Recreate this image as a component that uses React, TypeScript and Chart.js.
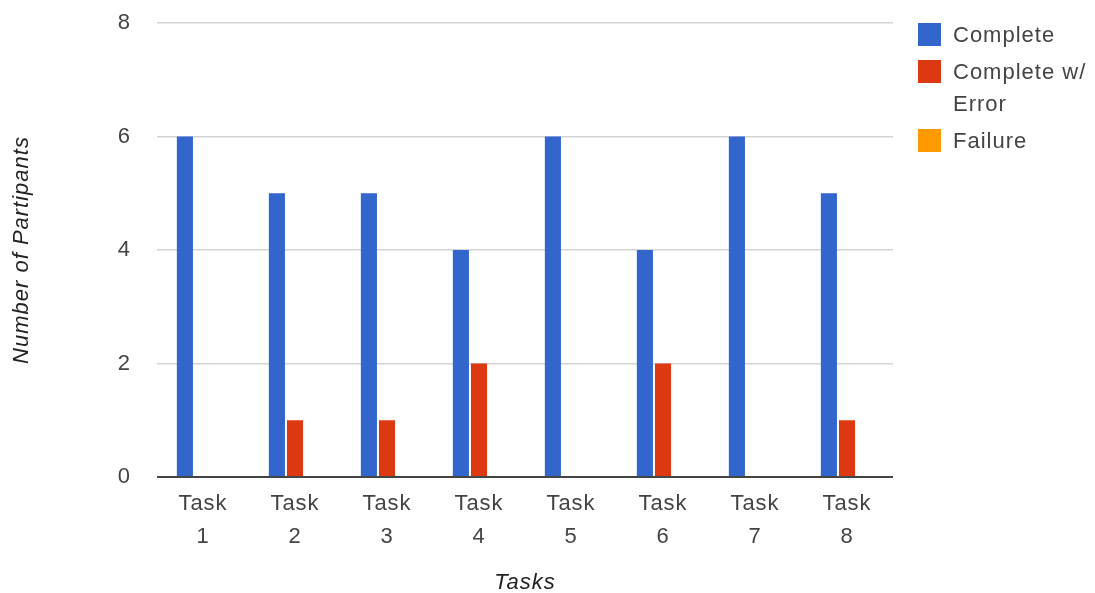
import React, { useEffect, useRef } from 'react';
import { Chart, registerables } from 'chart.js';

Chart.register(...registerables);

const categories = ['Task 1', 'Task 2', 'Task 3', 'Task 4', 'Task 5', 'Task 6', 'Task 7', 'Task 8'];
const seriesNames = ['Complete', 'Complete w/ Error', 'Failure'];
const complete = [6, 5, 5, 4, 6, 4, 6, 5];
const completeWithError = [0, 1, 1, 2, 0, 2, 0, 1];
const failure = [0, 0, 0, 0, 0, 0, 0, 0];
const seriesColors = ['#3366cc', '#dc3912', '#ff9900'];
const yMax = 8;
const yStep = 2;
const xTitle = 'Tasks';
const yTitle = 'Number of Partipants';

const FONT = '"Liberation Sans", Arial, sans-serif';

const spacingPlugin = {
  id: 'letterSpacing',
  beforeDraw(chart: any) {
    (chart.ctx as any).letterSpacing = '1px';
  },
};

const legendPlugin = {
  id: 'sideLegend',
  afterDraw(chart: any) {
    const ctx = chart.ctx as CanvasRenderingContext2D;
    ctx.save();
    (ctx as any).letterSpacing = '1px';
    ctx.font = `22px ${FONT}`;
    ctx.textBaseline = 'middle';
    ctx.textAlign = 'left';
    const boxX = 918;
    const textX = 953;
    const box = 23;
    const maxW = 138;
    const lineH = 32;
    let y = 23;
    chart.data.datasets.forEach((ds: any) => {
      const words = String(ds.label).split(' ');
      const lines: string[] = [];
      let cur = '';
      words.forEach((w) => {
        const t = cur ? cur + ' ' + w : w;
        if (ctx.measureText(t).width > maxW && cur) {
          lines.push(cur);
          cur = w;
        } else cur = t;
      });
      if (cur) lines.push(cur);
      ctx.fillStyle = ds.backgroundColor;
      ctx.fillRect(boxX, y, box, box);
      ctx.fillStyle = '#444';
      lines.forEach((l, k) => {
        ctx.fillText(l, textX, y + box / 2 + 1 + k * lineH);
      });
      y += 37 + lineH * (lines.length - 1);
    });
    ctx.restore();
  },
};

export default function App() {
  const ref = useRef<HTMLCanvasElement>(null);
  useEffect(() => {
    if (!ref.current) return;
    const chart = new Chart(ref.current, {
      type: 'bar',
      data: {
        labels: categories,
        datasets: [complete, completeWithError, failure].map((d, i) => ({
          label: seriesNames[i],
          data: d,
          backgroundColor: seriesColors[i],
          borderWidth: 0,
          categoryPercentage: 0.59,
          barPercentage: 0.89,
        })),
      },
      options: {
        animation: false,
        responsive: false,
        maintainAspectRatio: false,
        layout: { padding: { top: 23, right: 202, left: 0, bottom: 0 } },
        plugins: { legend: { display: false }, tooltip: { enabled: false } },
        scales: {
          x: {
            grid: { display: false, drawTicks: false },
            border: { display: false },
            ticks: {
              color: '#444',
              font: { family: FONT, size: 22, lineHeight: 1.5 },
              padding: 10,
              maxRotation: 0,
              autoSkip: false,
              callback: (v: any, i: number) => categories[i].split(' '),
            },
            title: {
              display: true,
              text: xTitle,
              color: '#222',
              font: { family: FONT, size: 22, style: 'italic', lineHeight: 0.9 },
              padding: { top: 0, bottom: 0 },
            },
            afterFit: (s: any) => {
              s.height = 116;
            },
          },
          y: {
            min: 0,
            max: yMax,
            grid: {
              drawTicks: false,
              color: (c: any) => (c.tick && c.tick.value === 0 ? '#444' : '#d4d4d4'),
              lineWidth: (c: any) => (c.tick && c.tick.value === 0 ? 2 : 1.5),
            },
            border: { display: false },
            ticks: {
              stepSize: yStep,
              color: '#444',
              padding: 26,
              font: { family: FONT, size: 22 },
            },
            title: {
              display: true,
              text: yTitle,
              color: '#222',
              font: { family: FONT, size: 22, style: 'italic', lineHeight: 1.2 },
              padding: { top: 9, bottom: 0 },
            },
            afterFit: (s: any) => {
              s.width = 157;
              s.paddingTop = 0;
              s.paddingBottom = 0;
            },
          },
        },
      },
      plugins: [spacingPlugin, legendPlugin],
    });
    return () => chart.destroy();
  }, []);
  return (
    <div style={{ position: 'fixed', left: 0, top: 0, width: 1095, height: 593, background: '#fff' }}>
      <canvas ref={ref} width={1095} height={593} style={{ width: 1095, height: 593 }} />
    </div>
  );
}
